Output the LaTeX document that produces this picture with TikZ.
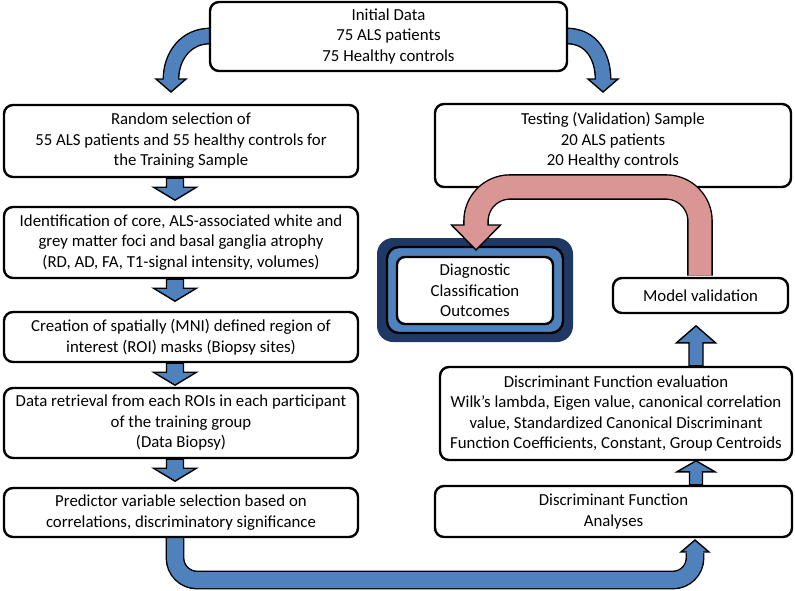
\documentclass[tikz,border=0pt]{standalone}
\usepackage{fontspec}
\setmainfont{Carlito}
\usetikzlibrary{calc,backgrounds}
\definecolor{ablue}{HTML}{4F81BD}
\definecolor{anavy}{HTML}{1F3864}
\definecolor{apink}{HTML}{D99694}
\begin{document}
\begin{tikzpicture}[x=1pt,y=-1pt,
  box/.style={draw, line width=2.4pt, rounded corners=9pt, fill=white, align=center,
    inner sep=0pt, font=\fontsize{16.8}{20.5}\selectfont},
  txt/.style={align=center, inner sep=0pt, font=\fontsize{16.8}{20.5}\selectfont},
  barrow/.style={draw, fill=ablue, line width=1.4pt, line join=miter},
  parrow/.style={draw, fill=apink, line width=1.4pt, line join=miter}]
\useasboundingbox (0,0) rectangle (795,590);

% left column
\node[box, minimum width=357pt, minimum height=69pt] (init) at (388.5,36.5)
  {Initial Data\\75 ALS patients\\75 Healthy controls};
\node[box, minimum width=354pt, minimum height=72pt] (random) at (181,141)
  {Random selection of\\55 ALS patients and 55 healthy controls for\\the Training Sample};
\node[box, minimum width=354pt, minimum height=71pt] (ident) at (181,242.5)
  {Identification of core, ALS-associated white and\\grey matter foci and basal ganglia atrophy\\(RD, AD, FA, T1-signal intensity, volumes)};
\node[box, minimum width=354pt, minimum height=50pt] (create) at (181,337)
  {Creation of spatially (MNI) defined region of\\interest (ROI) masks (Biopsy sites)};
\node[box, minimum width=354pt, minimum height=70pt] (retrieve) at (181,423)
  {Data retrieval from each ROIs in each participant\\of the training group\\(Data Biopsy)};
\node[box, minimum width=354pt, minimum height=49pt] (pred) at (181,512.5)
  {Predictor variable selection based on\\correlations, discriminatory significance};

% right column
\node[box, minimum width=356pt, minimum height=83pt] (testing) at (613,145.5) {};
\node[txt] (testtext) at (613,140.5)
  {Testing (Validation) Sample\\20 ALS patients\\20 Healthy controls};
\node[box, minimum width=175pt, minimum height=35pt] (model) at (700.5,295.5) {Model validation};
\node[box, minimum width=352pt, minimum height=93pt] (eval) at (616,413.5)
  {Discriminant Function evaluation\\Wilk's lambda, Eigen value, canonical correlation\\value, Standardized Canonical Discriminant\\Function Coefficients, Constant, Group Centroids};
\node[box, minimum width=357pt, minimum height=51pt] (dfa) at (613.5,511.5)
  {Discriminant Function\\Analyses};

% diagnostic outcome box
\node[fill=anavy, rounded corners=16pt, minimum width=196pt, minimum height=104pt, inner sep=0pt] (diagouter) at (475,290) {};
\node[draw, fill=ablue, line width=2.4pt, rounded corners=12pt, minimum width=176pt, minimum height=86pt, inner sep=0pt] (diagmid) at (475,290) {};
\node[box, rounded corners=8pt, minimum width=156pt, minimum height=67pt] (diag) at (475,290.5)
  {Diagnostic\\Classification\\Outcomes};

% straight block arrows, left column (down)
\foreach \a/\b in {random/ident, ident/create, create/retrieve, retrieve/pred}{
  \draw[barrow] ($(\a.south)+(-6,0)$) ++(-8.5,0) -- ++(0,9) -- ++(-13,0) -- ++(21.5,13)
     -- ++(21.5,-13) -- ++(-13,0) -- ++(0,-9) -- cycle;
}
% up arrows, right column
\coordinate (ev1) at ($(eval.north -| model.south)+(-4.5,0)$);
\draw[barrow] (ev1) ++(-7,0) -- ++(0,-23) -- ++(-12.5,0) -- ++(19.5,-17)
   -- ++(19.5,17) -- ++(-12.5,0) -- ++(0,23) -- cycle;
\coordinate (df1) at ($(dfa.north -| model.south)+(-4.5,0)$);
\draw[barrow] (df1) ++(-6.5,0) -- ++(0,-13) -- ++(-12.5,0) -- ++(19,-11)
   -- ++(19,11) -- ++(-12.5,0) -- ++(0,13) -- cycle;

% curved arrows from initial data, behind the box
\begin{pgfonlayer}{background}
  \coordinate (l0) at ($(init.west)+(6,-0.5)$);
  \coordinate (r0) at ($(init.east)+(-6,-0.5)$);
  \draw[line width=16.8pt] (l0) -- (210,36) .. controls (186,36) and (171,56) .. (171,79);
  \draw[barrow] (156,79) -- (186,79) -- (171,92) -- cycle;
  \draw[line width=14pt, ablue] (l0) -- (210,36) .. controls (186,36) and (171,56) .. (171,79) -- (171,81);
  \draw[line width=16.8pt] (r0) -- (567,36) .. controls (591,36) and (603,56) .. (603,79);
  \draw[barrow] (588,79) -- (618,79) -- (603,92) -- cycle;
  \draw[line width=14pt, ablue] (r0) -- (567,36) .. controls (591,36) and (603,56) .. (603,79) -- (603,81);

  % bottom U arrow
  \coordinate (u0) at ($(pred.south)+(-6,-6)$);
  \coordinate (u1) at ($(dfa.south -| model.south)+(-5.5,15)$);
  \draw[line width=18.8pt, rounded corners=22pt] (u0) -- (175,580) -- (695,580) -- (u1);
  \draw[barrow] (681,552) -- (709,552) -- (695,540) -- cycle;
  \draw[line width=16pt, ablue, rounded corners=22pt] (u0) -- (175,580) -- (695,580) -- ($(u1)+(0,-2)$);
\end{pgfonlayer}

% pink U-turn arrow
\coordinate (p0) at ($(model.north)+(-0.5,-1.2)$);
\draw[line width=25.6pt, rounded corners=34pt] (p0) -- (700,187) -- (476,187) -- (476,225);
\draw[parrow] (451.5,225) -- (500.5,225) -- (476,250) -- cycle;
\draw[line width=22.8pt, apink, rounded corners=34pt] (p0) -- (700,187) -- (476,187) -- (476,227);
\end{tikzpicture}
\end{document}
